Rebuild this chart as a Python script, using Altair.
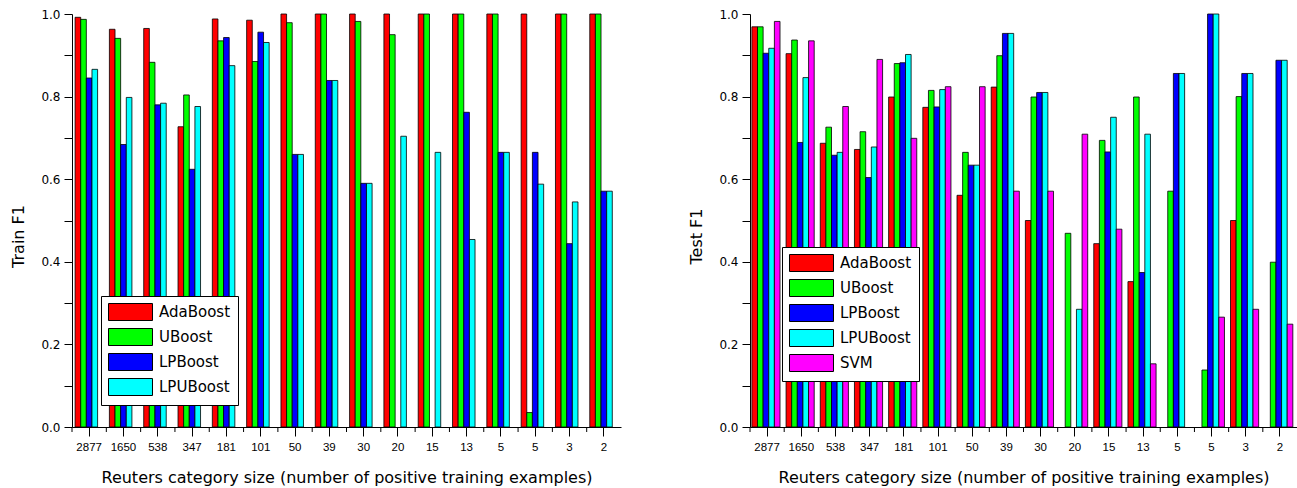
import altair as alt
import pandas as pd

categories = ["2877", "1650", "538", "347", "181", "101", "50", "39", "30", "20",
              "15", "13", "5_a", "5_b", "3", "2"]
train_series = ["AdaBoost", "UBoost", "LPBoost", "LPUBoost"]
test_series = ["AdaBoost", "UBoost", "LPBoost", "LPUBoost", "SVM"]
train_colors = ["#ff0000", "#00ff00", "#0000ff", "#00ffff"]
test_colors = ["#ff0000", "#00ff00", "#0000ff", "#00ffff", "#ff00ff"]

train_ada = [0.992, 0.963, 0.965, 0.727, 0.988, 0.985, 1.0, 1.0, 1.0, 1.0, 1.0, 1.0, 1.0, 1.0, 1.0, 1.0]
train_ub = [0.987, 0.941, 0.883, 0.804, 0.935, 0.885, 0.979, 1.0, 0.982, 0.950, 1.0, 1.0, 1.0, 0.035, 1.0, 1.0]
train_lp = [0.845, 0.684, 0.780, 0.624, 0.943, 0.956, 0.660, 0.839, 0.590, 0.0, 0.0, 0.762, 0.665, 0.665, 0.444, 0.571]
train_lpu = [0.866, 0.798, 0.784, 0.776, 0.875, 0.931, 0.660, 0.839, 0.590, 0.704, 0.665, 0.454, 0.665, 0.588, 0.545, 0.571]

test_ada = [0.969, 0.904, 0.687, 0.672, 0.799, 0.774, 0.561, 0.823, 0.500, 0.0, 0.444, 0.352, 0.0, 0.0, 0.500, 0.0]
test_ub = [0.969, 0.937, 0.726, 0.715, 0.880, 0.815, 0.665, 0.899, 0.799, 0.469, 0.694, 0.799, 0.571, 0.138, 0.800, 0.399]
test_lp = [0.905, 0.689, 0.658, 0.604, 0.882, 0.775, 0.634, 0.953, 0.810, 0.0, 0.666, 0.374, 0.856, 1.0, 0.856, 0.888]
test_lpu = [0.917, 0.846, 0.665, 0.678, 0.902, 0.817, 0.634, 0.953, 0.810, 0.285, 0.750, 0.709, 0.856, 1.0, 0.856, 0.888]
test_svm = [0.982, 0.935, 0.776, 0.890, 0.699, 0.824, 0.824, 0.571, 0.571, 0.709, 0.479, 0.153, 0.0, 0.266, 0.285, 0.249]

y_ticks = [0.0, 0.1, 0.2, 0.3, 0.4, 0.5, 0.6, 0.7, 0.8, 0.9, 1.0]
x_title = "Reuters category size (number of positive training examples)"


def to_df(series, arrays):
    rows = []
    for s, vals in zip(series, arrays):
        for c, v in zip(categories, vals):
            if v > 0:
                rows.append({"cat": c, "series": s, "value": v})
    return pd.DataFrame(rows)


HEIGHT = 413
# wide flat rectangle: nominal symbol box is 17px, drawn 44px wide from its left edge
SYMBOL = "M-1,-1L4.176,-1L4.176,1L-1,1Z"


def panel(df, series, colors, ytitle, width, pin, lx, ly):
    xscale = alt.Scale(paddingInner=pin, paddingOuter=pin / 2)
    bars = alt.Chart(df).mark_bar(stroke="black", strokeWidth=0.8).encode(
        x=alt.X("cat:N", sort=categories, scale=xscale,
                axis=alt.Axis(title=x_title, labelExpr="split(datum.label, '_')[0]",
                              labelAngle=0, labelFont="Liberation Sans",
                              labelFontSize=11.5, labelColor="black", labelPadding=5,
                              tickSize=9, tickColor="black", domainColor="black",
                              titleFont="DejaVu Sans", titleFontSize=16,
                              titleFontWeight="normal", titleColor="black",
                              titlePadding=17)),
        xOffset=alt.XOffset("series:N", sort=series, scale=alt.Scale(paddingInner=0)),
        y=alt.Y("value:Q", scale=alt.Scale(domain=[0, 1], nice=False),
                axis=alt.Axis(title=ytitle, values=y_ticks, grid=False,
                              labelExpr="round(datum.value * 10) % 2 == 0 ? format(datum.value, '.1f') : ''",
                              labelFont="DejaVu Sans", labelFontSize=12,
                              labelColor="black", labelPadding=4, tickSize=8,
                              tickColor="black", domainColor="black",
                              titleFont="DejaVu Sans", titleFontSize=16,
                              titleFontWeight="normal", titleColor="black",
                              titlePadding=14, titleY=222)),
        color=alt.Color("series:N", sort=series,
                        scale=alt.Scale(domain=series, range=colors), title=None,
                        legend=alt.Legend(orient="none", legendX=lx, legendY=ly,
                                          symbolType=SYMBOL, symbolSize=289,
                                          symbolStrokeColor="black",
                                          symbolStrokeWidth=1, symbolOpacity=1,
                                          labelFont="DejaVu Sans", labelFontSize=15,
                                          labelColor="black", labelOffset=33,
                                          strokeColor="black", fillColor="white",
                                          padding=7, rowPadding=3, labelLimit=200)),
    )
    gap = pin * (width / len(categories)) / 2
    minor = alt.Chart(pd.DataFrame({"cat": categories})).mark_rule(
        color="black", strokeWidth=1, xOffset=-gap).encode(
        x=alt.X("cat:N", sort=categories, bandPosition=0),
        y=alt.value(HEIGHT), y2=alt.value(HEIGHT + 5))
    return alt.layer(bars, minor).properties(width=width, height=HEIGHT)


left = panel(to_df(train_series, [train_ada, train_ub, train_lp, train_lpu]),
             train_series, train_colors, "Train F1", 549, 0.18, 29, 282)
right = panel(to_df(test_series, [test_ada, test_ub, test_lp, test_lpu, test_svm]),
              test_series, test_colors, "Test F1", 547, 0.11, 32, 233)

chart = alt.hconcat(left, right, spacing=67).resolve_scale(
    color="independent").configure_view(stroke=None).properties(
    background="white", padding={"left": 10, "top": 8, "right": 0, "bottom": 0})

chart.save("out.html", embed_options={"renderer": "svg", "actions": False})
